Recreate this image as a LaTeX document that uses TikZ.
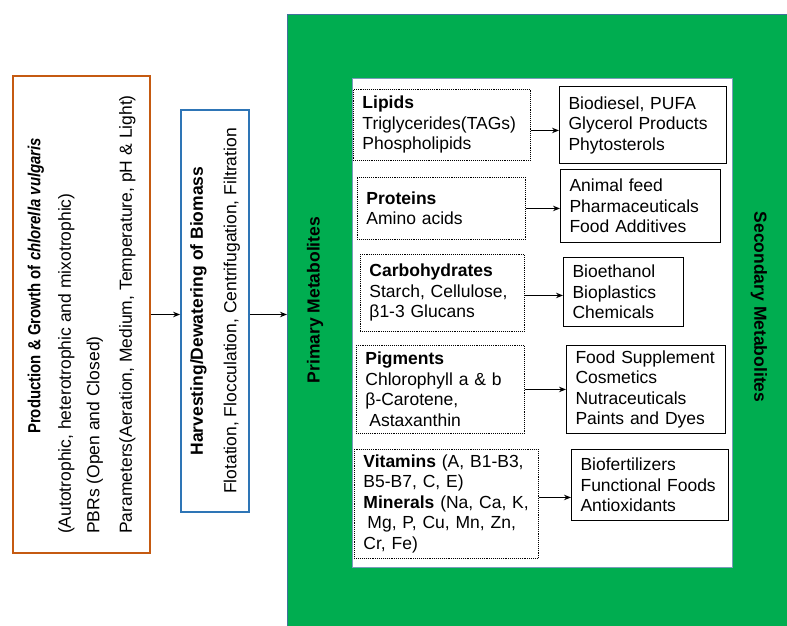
\documentclass[tikz,border=0pt]{standalone}
\usepackage{fontspec}
\setmainfont{Liberation Sans}
\usetikzlibrary{arrows.meta}
\definecolor{panelgreen}{RGB}{0,173,80}
\definecolor{paneledge}{RGB}{65,113,156}
\definecolor{prodorange}{RGB}{197,90,17}
\definecolor{harvblue}{RGB}{46,117,182}

\begin{document}
\begin{tikzpicture}[x=1pt,y=-1pt,>={Stealth[length=7pt,width=5.5pt]},
    every node/.style={font=\fontsize{17.5}{20.5}\selectfont},
    metab/.style={draw,densely dotted,line width=0.9pt,anchor=north west,align=left,inner xsep=9pt,inner ysep=0pt},
    usebox/.style={draw,line width=1.1pt,anchor=north west,align=left,inner xsep=9pt,inner ysep=0pt},
    flow/.style={->,line width=1pt}]
    \useasboundingbox (0,0) rectangle (787,626);

    % green panel and white inner panel
    \node[fill=panelgreen,draw=paneledge,line width=1.3pt,anchor=north west,minimum width=520pt,minimum height=640pt] (panel) at (287,14) {};
    \node[fill=white,draw=paneledge!70,line width=1.2pt,anchor=north west,minimum width=380pt,minimum height=489pt] (inner) at (352,78) {};

    % upstream steps
    \node[draw=prodorange,line width=1.8pt,rotate=90,minimum width=477pt,minimum height=137pt,align=left] (prod) at (81.5,314.5)
      {\hspace*{100pt}\scalebox{0.855}[1]{\textbf{Production \& Growth of \textit{chlorella vulgaris}}}\\[10pt]
       (Autotrophic, heterotrophic and mixotrophic)\\[8pt]
       PBRs (Open and Closed)\\[12pt]
       Parameters(Aeration, Medium, Temperature, pH \& Light)};
    \node[draw=harvblue,line width=1.8pt,rotate=90,minimum width=402pt,minimum height=68pt,align=center] (harv) at (215,311)
      {\textbf{Harvesting/Dewatering of Biomass}\\[13pt]
       Flotation, Flocculation, Centrifugation, Filtration};

    \node[font=\bfseries\fontsize{17.5}{20.5}\selectfont,rotate=90] (prim) at (315,300) {Primary Metabolites};
    \node[font=\bfseries\fontsize{17.5}{20.5}\selectfont,rotate=-90] (sec) at (759,307) {Secondary Metabolites};

    % primary metabolites
    \node[metab,text width=159pt,minimum height=71pt] (lipids) at (353,89)
      {\textbf{Lipids}\\ Triglycerides(TAGs)\\ Phospholipids};
    \node[metab,text width=150pt,minimum height=62pt] (prot) at (357,177)
      {\textbf{Proteins}\\ Amino acids};
    \node[metab,text width=146pt,minimum height=77pt] (carb) at (360,254)
      {\textbf{Carbohydrates}\\ Starch, Cellulose,\\ β1-3 Glucans};
    \node[metab,text width=150pt,minimum height=88pt] (pigm) at (356,345)
      {\textbf{Pigments}\\ Chlorophyll a \& b\\ β-Carotene,\\ \hspace*{4pt}Astaxanthin};
    \node[metab,text width=166pt,minimum height=109pt] (vitm) at (354,449)
      {\textbf{Vitamins} (A, B1-B3,\\ B5-B7, C, E)\\ \textbf{Minerals} (Na, Ca, K,\\ \hspace*{4pt}Mg, P, Cu, Mn, Zn,\\ Cr, Fe)};

    % secondary products
    \node[usebox,text width=149pt,minimum height=77pt] (lipuse) at (559,86)
      {Biodiesel, PUFA\\ Glycerol Products\\ Phytosterols};
    \node[usebox,text width=142pt,minimum height=73pt] (protuse) at (560,169)
      {Animal feed\\ Pharmaceuticals\\ Food Additives};
    \node[usebox,text width=102pt,minimum height=69pt] (carbuse) at (563,257)
      {Bioethanol\\ Bioplastics\\ Chemicals};
    \node[usebox,text width=141pt,minimum height=88pt] (pigmuse) at (566,345)
      {Food Supplement\\ Cosmetics\\ Nutraceuticals\\ Paints and Dyes};
    \node[usebox,text width=139pt,minimum height=71pt] (vituse) at (571,449)
      {Biofertilizers\\ Functional Foods\\ Antioxidants};

    % connectors
    \draw[flow] (prod.south) -- (prod.south -| harv.north);
    \draw[flow] (prod.south -| harv.south) -- (prod.south -| panel.west);
    \draw[flow] ([yshift=-5.5pt]lipids.east) -- ([yshift=-5.5pt]lipids.east -| lipuse.west);
    \draw[flow] (prot.east) -- (prot.east -| protuse.west);
    \draw[flow] ([yshift=-2.5pt]carb.east) -- ([yshift=-2.5pt]carb.east -| carbuse.west);
    \draw[flow] (pigm.east) -- (pigm.east -| pigmuse.west);
    \draw[flow] ([yshift=6.5pt]vitm.east) -- ([yshift=6.5pt]vitm.east -| vituse.west);
\end{tikzpicture}
\end{document}
